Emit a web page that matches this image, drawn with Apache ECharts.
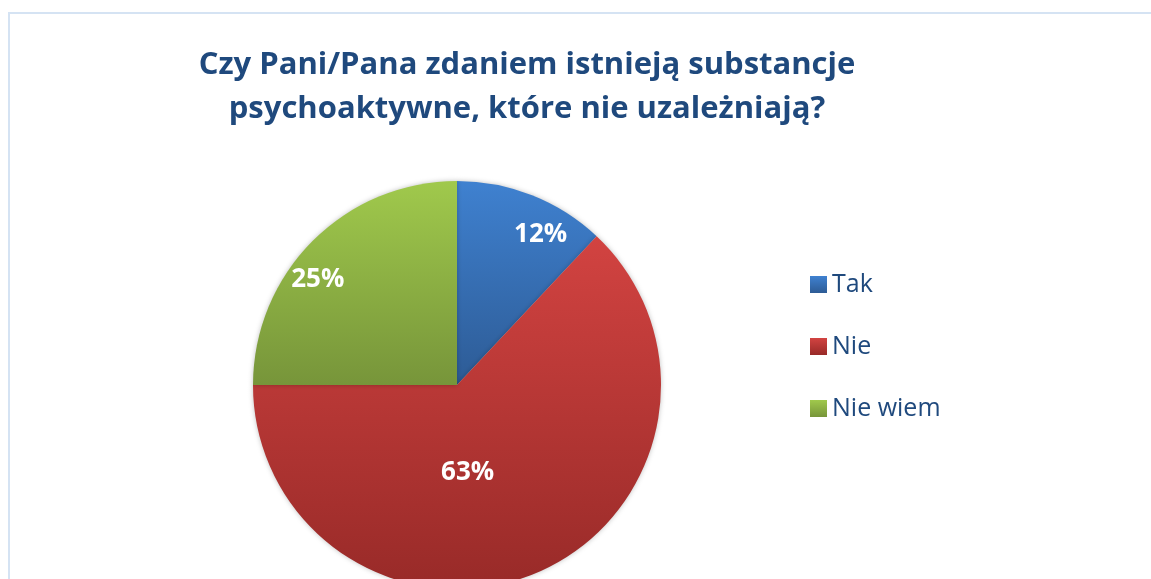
<!DOCTYPE html>
<html>
<head>
<meta charset="utf-8">
<script src="https://cdn.jsdelivr.net/npm/echarts@6/dist/echarts.min.js"></script>
<style>
html,body{margin:0;padding:0;background:#fff;}
#chart{width:1151px;height:579px;}
</style>
</head>
<body>
<div id="chart"></div>
<script>
const titleLines = ['Czy Pani/Pana zdaniem istnieją substancje', 'psychoaktywne, które nie uzależniają?'];
const categories = ['Tak', 'Nie', 'Nie wiem'];
const values = [12, 63, 25];
const labels = ['12%', '63%', '25%'];

const gradients = [
  ['#3f81d0', '#2d5b95'],
  ['#d24341', '#982a28'],
  ['#a0c94c', '#77953a']
];
const labelOffsets = [[45, -53], [-31, -9], [-65, -31]];

const chart = echarts.init(document.getElementById('chart'), null, {renderer: 'canvas'});
const fontFam = '"Open Sans", "Noto Sans", sans-serif';

const data = categories.map((c, i) => ({
  name: c,
  value: values[i],
  itemStyle: {
    color: new echarts.graphic.LinearGradient(0, 0, 0, 1, [
      {offset: 0, color: gradients[i][0]},
      {offset: 1, color: gradients[i][1]}
    ])
  },
  label: {offset: labelOffsets[i]}
}));

chart.setOption({
  animation: false,
  backgroundColor: '#ffffff',
  graphic: [{
    type: 'rect',
    shape: {x: 9, y: 13, width: 1200, height: 700},
    style: {fill: 'none', stroke: '#d5e3f3', lineWidth: 2},
    z: -1
  }],
  title: {
    text: titleLines.join('\n'),
    left: 522,
    top: 38,
    textAlign: 'center',
    textStyle: {
      fontFamily: fontFam,
      fontWeight: 'bold',
      fontSize: 31,
      lineHeight: 44,
      color: '#1f497d'
    }
  },
  legend: {
    orient: 'vertical',
    left: 810,
    top: 272,
    padding: 0,
    itemWidth: 17,
    itemHeight: 17,
    itemGap: 37,
    icon: 'rect',
    data: categories,
    textStyle: {fontFamily: fontFam, fontSize: 25, lineHeight: 24, color: '#1f497d', padding: [0, 0, 0, 0]}
  },
  series: [{
    type: 'pie',
    center: [457, 385],
    radius: 204,
    startAngle: 90,
    clockwise: true,
    data: data,
    itemStyle: {shadowBlur: 5, shadowColor: 'rgba(0,0,0,0.25)'},
    label: {
      show: true,
      position: 'inside',
      formatter: p => labels[p.dataIndex],
      color: '#ffffff',
      fontFamily: fontFam,
      fontWeight: 'bold',
      fontSize: 26
    },
    labelLine: {show: false},
    emphasis: {disabled: true}
  }]
});
</script>
</body>
</html>
